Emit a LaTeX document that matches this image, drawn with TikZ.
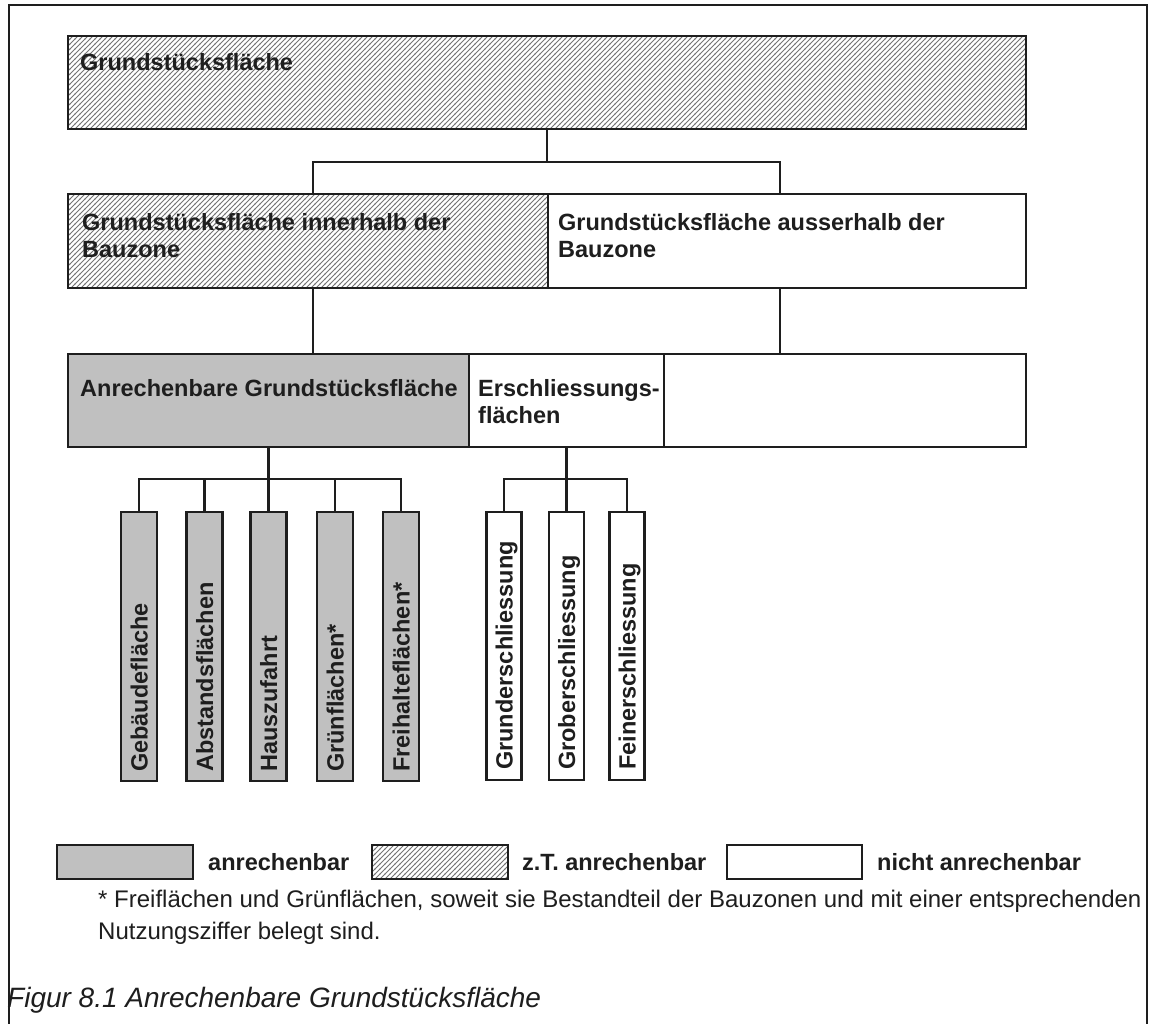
\documentclass[tikz,border=0pt]{standalone}
\usepackage{fontspec}
\setmainfont{Liberation Sans}
\usetikzlibrary{patterns}
\pgfdeclarepatternformonly{hatchp}{\pgfqpoint{-1pt}{-1pt}}{\pgfqpoint{6pt}{6pt}}{\pgfqpoint{5pt}{5pt}}{%
  \pgfsetlinewidth{1pt}%
  \pgfpathmoveto{\pgfqpoint{-0.5pt}{-0.5pt}}%
  \pgfpathlineto{\pgfqpoint{5.5pt}{5.5pt}}%
  \pgfusepath{stroke}}
\definecolor{boxgray}{RGB}{192,192,192}
\definecolor{hatchc}{RGB}{115,115,115}
\definecolor{linec}{RGB}{30,30,30}
\begin{document}
\begin{tikzpicture}[x=1pt,y=-1pt,
  box/.style={draw=linec, line width=2.5pt, inner sep=0pt, outer sep=0pt, anchor=north west},
  vb/.style={draw=linec, line width=2.5pt, inner sep=0pt, outer sep=0pt, anchor=north, minimum height=269pt},
  grayfill/.style={fill=boxgray},
  hatchfill/.style={pattern=hatchp, pattern color=hatchc},
  conn/.style={draw=linec, line width=2.2pt},
  btxt/.style={font=\fontsize{23.5}{27.5}\selectfont\bfseries, anchor=base west, inner sep=0pt, text=linec},
  vtxt/.style={btxt, rotate=90},
  ntxt/.style={font=\fontsize{24}{32}\selectfont, anchor=base west, inner sep=0pt, text=linec}]
\useasboundingbox (0,0) rectangle (1152,1024);
\fill[white] (0,0) rectangle (1152,1024);
% frame
\draw[line width=2pt, linec] (9,1030) -- (9,5) -- (1147,5) -- (1147,1030);

% level 1
\node[box, hatchfill, minimum width=958pt, minimum height=93pt] (g1) at (68,36) {};
\node[btxt] (t1) at (80,71) {Grundstücksfläche};

% level 2
\node[box, hatchfill, minimum width=480pt, minimum height=94pt] (g2a) at (68,194) {};
\node[box, fill=white, minimum width=478pt, minimum height=94pt] (g2b) at (548,194) {};
\node[btxt, align=left] (t2a) at (82,258) {Grundstücksfläche innerhalb der\\Bauzone};
\node[btxt, align=left] (t2b) at (558,258) {Grundstücksfläche ausserhalb der\\Bauzone};

% level 3
\node[box, grayfill, minimum width=401pt, minimum height=93pt] (g3a) at (68,354) {};
\node[box, fill=white, minimum width=195pt, minimum height=93pt] (g3b) at (469,354) {};
\node[box, fill=white, minimum width=362pt, minimum height=93pt] (g3c) at (664,354) {};
\node[btxt] (t3a) at (80,397) {Anrechenbare Grundstücksfläche};
\node[btxt, align=left] (t3b) at (478,424) {Erschliessungs-\\flächen};

% level 4 (anrechenbar)
\node[vb, grayfill, minimum width=36pt] (v1) at (139,512) {};
\node[vb, grayfill, minimum width=36pt] (v2) at (204.5,512) {};
\node[vb, grayfill, minimum width=36pt] (v3) at (268.5,512) {};
\node[vb, grayfill, minimum width=36pt] (v4) at (335,512) {};
\node[vb, grayfill, minimum width=36pt] (v5) at (401,512) {};
\node[vtxt] (tv1) at ([xshift=8.5pt,yshift=9pt]v1.south) {Gebäudefläche};
\node[vtxt] (tv2) at ([xshift=8.5pt,yshift=9pt]v2.south) {Abstandsflächen};
\node[vtxt] (tv3) at ([xshift=8.5pt,yshift=9pt]v3.south) {Hauszufahrt};
\node[vtxt] (tv4) at ([xshift=8.5pt,yshift=9pt]v4.south) {Grünflächen*};
\node[vtxt] (tv5) at ([xshift=8.5pt,yshift=9pt]v5.south) {Freihalteflächen*};

% level 4 (Erschliessung)
\node[vb, fill=white, minimum width=35pt, minimum height=268pt] (e1) at (504,512) {};
\node[vb, fill=white, minimum width=35pt, minimum height=268pt] (e2) at (566.5,512) {};
\node[vb, fill=white, minimum width=35pt, minimum height=268pt] (e3) at (627,512) {};
\node[vtxt] (te1) at ([xshift=8.5pt,yshift=10pt]e1.south) {Grunderschliessung};
\node[vtxt] (te2) at ([xshift=8.5pt,yshift=10pt]e2.south) {Groberschliessung};
\node[vtxt] (te3) at ([xshift=8.5pt,yshift=10pt]e3.south) {Feinerschliessung};

% connectors
\draw[conn] (g1.south) -- ++(0,33);
\draw[conn] ([xshift=5pt]g2a.north) -- ++(0,-32) -| ([xshift=-7pt]g2b.north);
\draw[conn] ([xshift=5pt]g2a.south) -- ([xshift=5pt]g2a.south |- g3a.north);
\draw[conn] ([xshift=-7pt]g2b.south) -- ([xshift=-7pt]g2b.south |- g3c.north);
\draw[conn] (g3a.south) -- (v3.north);
\draw[conn] (v1.north) -- ++(0,-33) -| (v5.north);
\draw[conn] (v2.north) -- ++(0,-33);
\draw[conn] (v4.north) -- ++(0,-33);
\draw[conn] (g3b.south) -- (e2.north);
\draw[conn] (e1.north) -- ++(0,-33) -| (e3.north);

% legend
\node[box, grayfill, minimum width=136pt, minimum height=34pt] (l1) at (57,845) {};
\node[btxt] (lt1) at (208,870) {anrechenbar};
\node[box, hatchfill, minimum width=136pt, minimum height=34pt] (l2) at (372,845) {};
\node[btxt] (lt2) at (522,870) {z.T. anrechenbar};
\node[box, fill=white, minimum width=135pt, minimum height=34pt] (l3) at (727,845) {};
\node[btxt] (lt3) at (877,870) {nicht anrechenbar};

% footnote
\node[ntxt] (fn1) at (98,907) {* Freiflächen und Grünflächen, soweit sie Bestandteil der Bauzonen und mit einer entsprechenden};
\node[ntxt] (fn2) at (98,939) {Nutzungsziffer belegt sind.};

% caption
\node[font=\fontsize{28}{32}\selectfont\itshape, anchor=base west, inner sep=0pt, text=linec] (cap) at (7,1007) {Figur 8.1 Anrechenbare Grundstücksfläche};
\end{tikzpicture}
\end{document}
